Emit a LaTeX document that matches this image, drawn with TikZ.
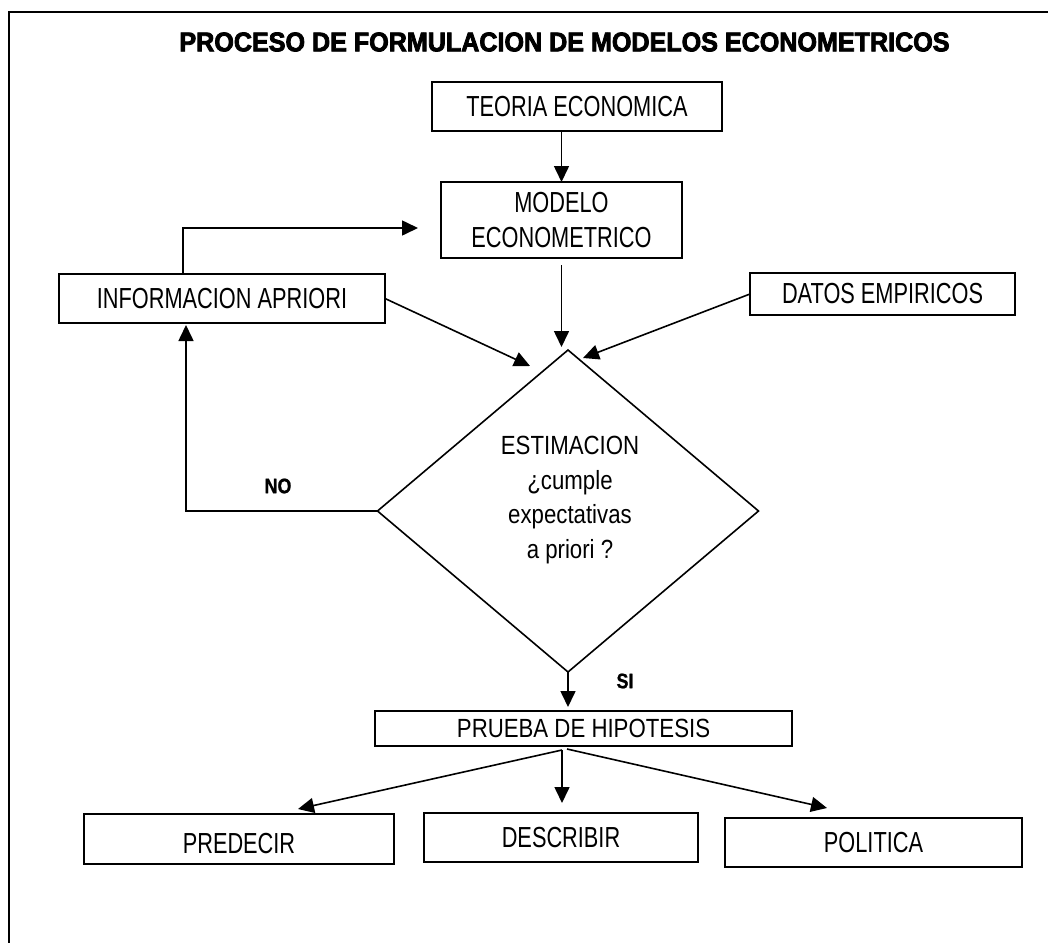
\documentclass[tikz,border=0pt]{standalone}
\usepackage{fontspec}
\setmainfont{Liberation Sans}
\newfontfamily\boxfont{Liberation Sans}[FakeStretch=0.75]
\newfontfamily\estfont{Liberation Sans}[FakeStretch=0.845]
\newfontfamily\titlefont{Liberation Sans Bold}[FakeStretch=0.93,FakeBold=3]
\newfontfamily\lblfont{Liberation Sans Bold}[FakeStretch=0.85,FakeBold=1]
\usetikzlibrary{arrows.meta,calc,shapes.geometric}
\tikzset{
  box/.style={draw, line width=1.8pt, inner sep=0pt, outer sep=0pt, align=center,
    font=\boxfont\fontsize{29}{35}\selectfont},
  wbox/.style={draw, line width=1.8pt, inner sep=0pt, outer sep=0pt, align=center,
    font=\estfont\fontsize{26.3}{34.5}\selectfont},
  arr/.style={line width=1.6pt, -{Triangle[length=16pt,width=15pt]}},
  lbl/.style={font=\lblfont\fontsize{21}{24}\selectfont, inner sep=0pt}
}
\begin{document}
\begin{tikzpicture}[x=1pt,y=-1pt]
\useasboundingbox (0,0) rectangle (1048,942);
\draw[line width=2.5pt] (9,960) -- (9,12) -- (1070,12);

\node[font=\titlefont\fontsize{27}{30}\selectfont, inner sep=0pt] (title) at (564.5,42)
  {PROCESO DE FORMULACION DE MODELOS ECONOMETRICOS};

\node[box, minimum width=290pt, minimum height=49pt] (teoria) at (577,106.5) {TEORIA ECONOMICA};
\node[box, minimum width=241pt, minimum height=76pt] (modelo) at (561.5,220) {MODELO\\ECONOMETRICO};
\node[box, minimum width=326pt, minimum height=49pt] (info) at (222,298.5) {INFORMACION APRIORI};
\node[box, minimum width=265pt, minimum height=42pt] (datos) at (882.5,294) {DATOS EMPIRICOS};

\node[draw, diamond, line width=1.6pt, inner sep=0pt, outer sep=0pt,
  minimum width=381pt, minimum height=322pt] (est) at (568,511) {};
\node[font=\estfont\fontsize{26.3}{34.5}\selectfont, align=center, inner sep=0pt] (esttext) at (570,500)
  {ESTIMACION\\¿cumple\\expectativas\\a priori ?};

\node[wbox, minimum width=417pt, minimum height=35pt] (prueba) at (583.5,728.5) {PRUEBA DE HIPOTESIS};

\node[box, minimum width=310pt, minimum height=50pt, text height=28pt, text depth=0pt] (predecir) at (239,839) {PREDECIR};
\node[box, minimum width=274pt, minimum height=49pt] (describir) at (561,837.5) {DESCRIBIR};
\node[box, minimum width=297pt, minimum height=49pt] (politica) at (873.5,842.5) {POLITICA};

\node[lbl] (no) at (278,486) {NO};
\node[lbl] (si) at (625,681) {SI};

% connectors
\draw[arr] (teoria.south -| modelo.north) -- (modelo.north);
\coordinate (fb) at (183,228);
\draw[arr, shorten >=23pt] (info.north -| fb) |- ($(modelo.west)+(0,8)$);
\draw[arr, shorten <=7pt, shorten >=3pt] (modelo.south) -- (modelo.south |- est.north);
\draw[arr] (info.east) -- ($(est.north)+(-38,16)$);
\draw[arr] (datos.west) -- ($(est.north)+(15,8)$);
\draw[arr, shorten >=2pt] (est.west) -| ([xshift=-36pt]info.south);
\draw[arr, shorten >=4pt] (est.south) -- (est.south |- prueba.north);
\coordinate (pl) at ($(prueba.south)+(-21.5,4)$);
\coordinate (pr) at ($(prueba.south)+(-16.5,3)$);
\draw[arr] (pl) -- ($(predecir.north)+(59,-5)$);
\draw[arr, shorten >=10pt] (pl) -- (pl |- describir.north);
\draw[arr] (pr) -- ($(politica.north)+(-46.5,-10)$);
\end{tikzpicture}
\end{document}
